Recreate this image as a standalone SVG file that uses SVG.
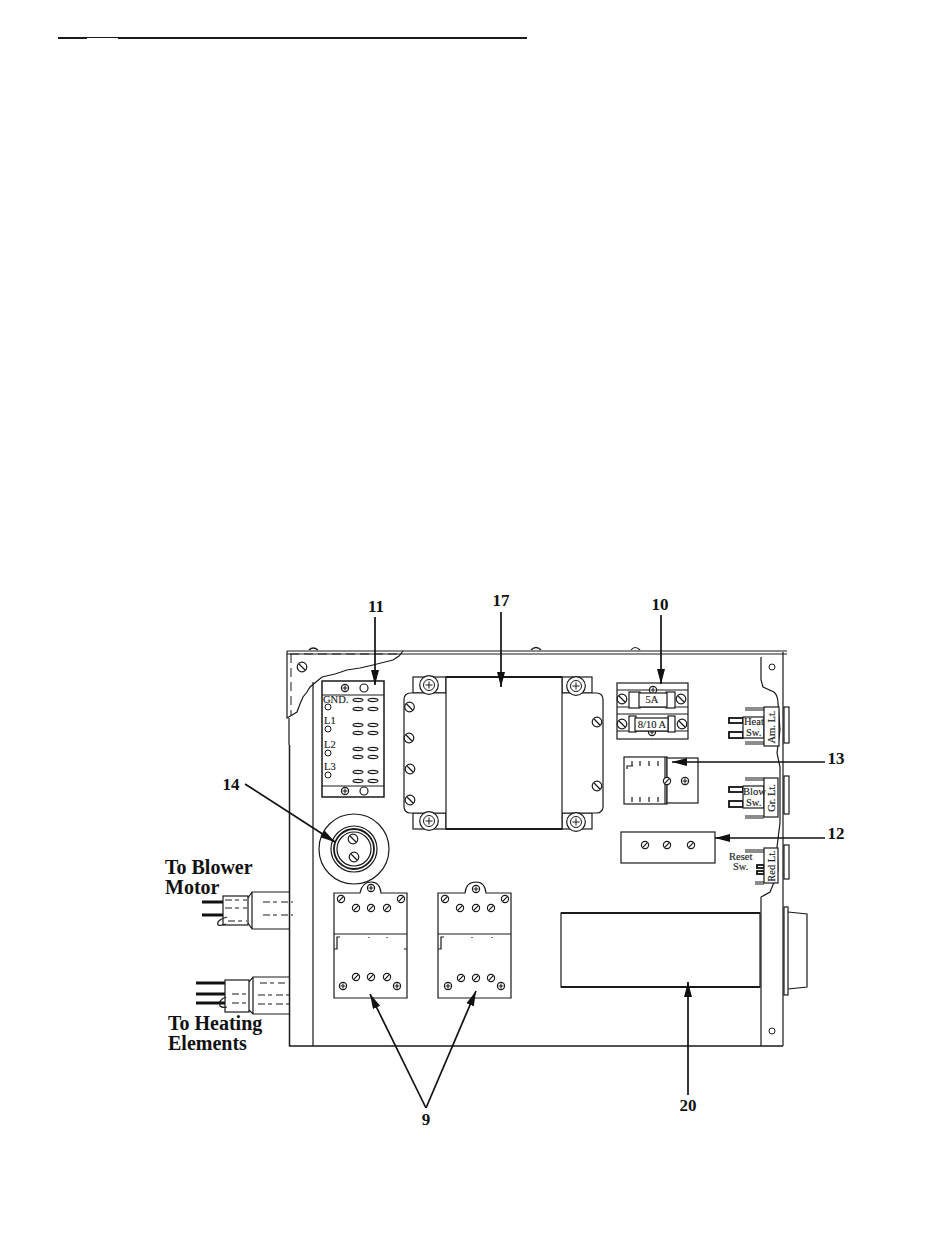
<svg xmlns="http://www.w3.org/2000/svg" width="950" height="1254" viewBox="0 0 950 1254">
<style>
.l{fill:none;stroke:#1a1a1a;stroke-width:1.2}
.w{fill:#fff;stroke:#1a1a1a;stroke-width:1.2}
.t{stroke:#1a1a1a;stroke-width:1.5;fill:none}
.h{stroke:#1a1a1a;stroke-width:1.9;fill:none}
.d{fill:none;stroke:#1a1a1a;stroke-width:1;stroke-dasharray:9 5}
.ds{fill:none;stroke:#1a1a1a;stroke-width:1;stroke-dasharray:7 3 4 4}
.a{stroke:#111;stroke-width:1.7;fill:none;marker-end:url(#ah)}
.n{font-family:"Liberation Serif",serif;font-weight:bold;font-size:17px;fill:#111;text-anchor:middle}
.b{font-family:"Liberation Serif",serif;font-weight:bold;font-size:20px;fill:#111}
.s{font-family:"Liberation Serif",serif;font-size:10.500px;fill:#222;stroke:#222;stroke-width:.15}
.v{font-family:"Liberation Serif",serif;font-size:10.500px;fill:#222;stroke:#222;stroke-width:.15;text-anchor:middle}
.wire{stroke:#111;stroke-width:3.2;fill:none}
.pin{stroke:#111;stroke-width:1.8;fill:#fff}
</style>
<defs>
<marker id="ah" markerWidth="16" markerHeight="8" refX="15" refY="4" orient="auto" markerUnits="userSpaceOnUse"><path d="M0 0L15 4L0 8Z" fill="#111"/></marker>
<g id="sl"><circle r="3.6" fill="#fff" stroke="#1a1a1a" stroke-width="1.2"/><path d="M-2.3 2.3L2.3 -2.3" stroke="#1a1a1a" stroke-width="1.2"/></g>
<g id="sl2"><circle r="4.800" fill="#fff" stroke="#1a1a1a" stroke-width="1.2"/><path d="M-3 -3L3 3" stroke="#1a1a1a" stroke-width="1.3"/></g>
<g id="ph"><circle r="3.6" fill="#fff" stroke="#1a1a1a" stroke-width="1.2"/><path d="M-2.5 0H2.500M0 -2.500V2.500" stroke="#1a1a1a" stroke-width="1.1"/></g>
<circle id="ho" r="3" fill="#fff" stroke="#1a1a1a" stroke-width="1"/>
<ellipse id="ov" rx="5" ry="1.600" fill="#fff" stroke="#1a1a1a" stroke-width="1.100"/>
<g id="big"><circle r="9.300" fill="#fff" stroke="#1a1a1a" stroke-width="1.200"/><circle r="5.500" fill="#fff" stroke="#1a1a1a" stroke-width="1"/><path d="M-3.500 0H3.500M0 -3.500V3.500" stroke="#1a1a1a" stroke-width="1"/></g>
</defs>

<path d="M58 38H87M118 38H527" stroke="#1a1a1a" stroke-width="2"/><path d="M87 37.500H118" stroke="#1a1a1a" stroke-width="1"/>

<g id="chassis">
<path class="l" d="M287 651H787M287 654H787"/>
<path class="l" d="M309 650Q313 646 318 650M531 650Q536 645 541 650M631 650Q635 645 640 650"/>
<path class="l" d="M287 651V718L297 712L300 704L303 697L307 692L310 687L316 682L322 677L335 674L347 670L360 668L373 665L385 662L393 660L399 656L403 651"/>
<path class="d" d="M290 654H400M291 654V716"/>
<use href="#sl2" x="302" y="667"/>
<path class="t" d="M289.500 745V1046H783"/>
<path class="l" d="M289 718V745M313 682V1046"/>
<path class="l" d="M783 652V1046M761 657V680L763 687L774 692Q778 696 778 703L780 730L777 753L780 767L780 823L777 847L778 870L775 880L770 892L761 897V1046"/>
<use href="#ho" x="772" y="667"/><use href="#ho" x="772" y="1031"/>
</g>

<g id="terminal-block-11">
<rect class="w" x="322" y="681" width="62" height="116" style="stroke-width:1.5"/>
<path class="l" d="M322 695H384M322 786H384"/>
<use href="#ph" x="345" y="688"/><circle cx="364" cy="688" r="4" class="w"/>
<use href="#ph" x="345" y="791"/><circle cx="364" cy="791" r="4" class="w"/>
<text class="s" x="323" y="703">GND.</text><text class="s" x="324" y="724">L1</text><text class="s" x="324" y="748">L2</text><text class="s" x="324" y="770">L3</text>
<use href="#ho" x="328" y="707"/><use href="#ho" x="328" y="729"/><use href="#ho" x="328" y="753"/><use href="#ho" x="328" y="775"/>
<use href="#ov" x="358" y="700"/><use href="#ov" x="373" y="700"/><use href="#ov" x="358" y="709"/><use href="#ov" x="373" y="709"/>
<use href="#ov" x="358" y="725"/><use href="#ov" x="373" y="725"/><use href="#ov" x="358" y="733"/><use href="#ov" x="373" y="733"/>
<use href="#ov" x="358" y="749"/><use href="#ov" x="373" y="749"/><use href="#ov" x="358" y="757"/><use href="#ov" x="373" y="757"/>
<use href="#ov" x="358" y="772"/><use href="#ov" x="373" y="772"/><use href="#ov" x="358" y="781"/><use href="#ov" x="373" y="781"/>
</g>

<g id="transformer-17">
<rect class="w" x="413" y="677" width="33" height="16"/><rect class="w" x="413" y="813" width="33" height="16"/>
<rect class="w" x="562" y="677" width="30" height="16"/><rect class="w" x="562" y="813" width="30" height="16"/>
<rect class="w" x="404" y="693" width="50" height="120" rx="6"/><rect class="w" x="554" y="693" width="49" height="120" rx="6"/>
<rect class="w" x="446" y="677" width="116" height="152"/>
<path class="h" d="M446 677H562M446 829H562"/>
<use href="#big" x="429" y="685"/><use href="#big" x="429" y="821"/><use href="#big" x="576" y="686"/><use href="#big" x="576" y="822"/>
<use href="#sl2" x="409.500" y="707"/><use href="#sl2" x="409" y="738"/><use href="#sl2" x="410" y="769"/><use href="#sl2" x="410" y="800"/>
<use href="#sl2" x="597" y="722"/><use href="#sl2" x="597" y="786"/>
</g>

<g id="fuse-block-10">
<rect class="w" x="617" y="683" width="71" height="56"/>
<path class="l" d="M617 690H688M617 707H688M617 714H688M617 731H688"/>
<use href="#ph" x="653" y="690"/><use href="#ph" x="652" y="732"/>
<rect class="w" x="629" y="692" width="11" height="16"/><rect class="w" x="666" y="692" width="9" height="16"/><rect class="w" x="639" y="693" width="28" height="14"/>
<rect class="w" x="629" y="716" width="7" height="16"/><rect class="w" x="668" y="716" width="7" height="16"/><rect class="w" x="635" y="718" width="33" height="13"/>
<use href="#sl2" x="622" y="699"/><use href="#sl2" x="681" y="699"/><use href="#sl2" x="622" y="724"/><use href="#sl2" x="682" y="724"/>
<text class="v" x="652" y="703">5A</text><text class="v" x="652" y="727.500">8/10 A</text>
</g>

<g id="relay-13">
<rect class="w" x="624" y="757" width="43" height="47"/>
<rect class="w" x="667" y="758" width="31" height="45"/>
<path class="l" d="M665 757V804"/>
<path class="l" d="M632 761V766M640 761V766M649 761V766M658 761V766M632 797V802M640 797V802M649 797V802M658 797V802M627 769V766H633"/>
<use href="#sl" x="667" y="781"/><use href="#ph" x="685" y="781"/>
</g>

<g id="terminal-12">
<rect class="w" x="621" y="832" width="94" height="31"/>
<use href="#sl" x="645" y="845"/><use href="#sl" x="667" y="845"/><use href="#sl" x="691" y="845"/>
</g>

<g id="switches">
<path class="l" d="M745 708H764M745 710H764M745 742H764M745 744H764M745 778H764M745 780H764M745 816H764M745 818H764M745 850H764M745 852H764M755 882H764M755 884H764"/>
<rect class="pin" x="729" y="718" width="14" height="5"/><rect class="pin" x="729" y="732" width="14" height="6"/>
<rect class="pin" x="729" y="787" width="14" height="5"/><rect class="pin" x="729" y="801" width="14" height="6"/>
<rect class="pin" x="757" y="865" width="7" height="3"/><rect class="pin" x="757" y="871" width="7" height="3"/>
<rect class="w" x="743" y="717" width="21" height="21"/><rect class="w" x="743" y="786" width="21" height="22"/>
<rect class="w" x="764" y="707" width="15" height="39"/><rect class="w" x="764" y="778" width="14" height="39"/><rect class="w" x="764" y="848" width="14" height="35"/>
<rect class="w" x="784" y="707" width="5" height="36"/><rect class="w" x="784" y="776" width="5" height="38"/><rect class="w" x="784" y="845" width="5" height="34"/>
<text class="s" x="744" y="725">Heat</text><text class="s" x="746" y="736">Sw.</text>
<text class="s" x="743" y="795">Blow</text><text class="s" x="746" y="806">Sw.</text>
<text class="s" x="729" y="860">Reset</text><text class="s" x="733" y="870">Sw.</text>
<text class="v" transform="translate(775 727) rotate(-90)">Am. Lt.</text>
<text class="v" transform="translate(775 798) rotate(-90)">Gr. Lt.</text>
<text class="v" transform="translate(775 866) rotate(-90)">Red Lt.</text>
</g>

<g id="receptacle-14">
<circle class="w" cx="354" cy="849" r="35"/>
<circle class="l" cx="354" cy="849" r="23"/><circle class="l" cx="354" cy="849" r="20" style="stroke-width:1.8"/><circle class="l" cx="354" cy="849" r="17"/>
<use href="#sl2" x="353" y="839"/><use href="#sl2" x="354" y="857"/>
</g>

<g id="blower-cable">
<path class="wire" d="M202 902H224M202 915H224"/>
<rect class="w" x="223" y="896" width="25" height="29"/>
<path class="l" d="M248 898L252 892H289M248 923L252 929H289M252 892V929"/>
<path class="ds" d="M225 900H247M225 908H247M228 921H247M263 902H293M263 915H293"/>
<path class="l" d="M227 917Q216 920 218 925Q220 926 226 924"/>
</g>
<g id="heating-cable">
<path class="wire" d="M196 983H226M196 994H226M196 1003H226"/>
<rect class="w" x="225" y="980" width="24" height="32"/>
<path class="l" d="M249 982L253 977H289M249 1010L253 1014H289M253 977V1014"/>
<path class="ds" d="M232 994H247M232 1003H247M260 983H285M258 995H291M258 1004H291"/>
<path class="l" d="M226 997Q218 1000 220 1006Q222 1008 227 1007"/>
</g>

<g id="relay-9a">
<path class="w" d="M334 893H360Q362 882 371 882Q380 882 381 893H407V998H334Z"/>
<path class="l" d="M334 934H407M340 937H337V949H334M404 949H407M369 937V938M387 937V938"/>
<use href="#ph" x="371" y="888"/>
<use href="#sl" x="341" y="899"/><use href="#sl" x="401" y="899"/><use href="#sl" x="356" y="908"/><use href="#sl" x="371" y="908"/><use href="#sl" x="387" y="908"/>
<use href="#sl" x="356" y="977"/><use href="#sl" x="371" y="977"/><use href="#sl" x="387" y="977"/>
<use href="#ph" x="343" y="986"/><use href="#ph" x="397" y="986"/>
</g>
<g id="relay-9b">
<path class="w" d="M438 893H465Q466 882 476 882Q485 882 486 893H511V998H438Z"/>
<path class="l" d="M438 934H511M444 937H441V949H438M472 937V938M492 937V938"/>
<use href="#ph" x="476" y="889"/>
<use href="#sl" x="445" y="899"/><use href="#sl" x="505" y="899"/><use href="#sl" x="460" y="908"/><use href="#sl" x="476" y="908"/><use href="#sl" x="491" y="908"/>
<use href="#sl" x="461" y="978"/><use href="#sl" x="476" y="978"/><use href="#sl" x="491" y="978"/>
<use href="#ph" x="448" y="986"/><use href="#ph" x="501" y="986"/>
</g>

<g id="box-20">
<rect class="w" x="561" y="913" width="199" height="74"/>
<path class="h" d="M561 913H760M561 987H760"/>
<rect class="w" x="784" y="907" width="4" height="88"/>
<path class="l" d="M788 912L807 914V987L788 989"/>
</g>

<g id="connectors">
<path class="a" d="M375 617V685"/>
<path class="a" d="M501 612V687"/>
<path class="a" d="M661 615V684"/>
<path class="a" d="M825 762H672"/>
<path class="a" d="M825 838H715"/>
<path class="a" d="M245 784L335 842"/>
<path class="a" d="M426 1108L370 994"/>
<path class="a" d="M426 1108L476 991"/>
<path class="a" d="M688 1095V982"/>
</g>

<g id="labels">
<text class="n" x="376" y="612">11</text><text class="n" x="501" y="606">17</text><text class="n" x="660" y="610">10</text>
<text class="n" x="836" y="764">13</text><text class="n" x="836" y="839">12</text><text class="n" x="231" y="790">14</text>
<text class="n" x="426" y="1125">9</text><text class="n" x="688" y="1111">20</text>
<text class="b" x="165" y="874">To Blower</text><text class="b" x="165" y="894">Motor</text>
<text class="b" x="168" y="1030">To Heating</text><text class="b" x="168" y="1050">Elements</text>
</g>
</svg>
